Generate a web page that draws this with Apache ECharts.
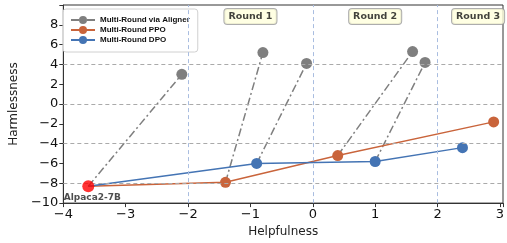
<!DOCTYPE html>
<html>
<head>
<meta charset="utf-8">
<script src="https://cdn.jsdelivr.net/npm/echarts@6/dist/echarts.min.js"></script>
<style>
  html, body { margin: 0; padding: 0; background: #fff; }
  #chart { width: 507px; height: 243px; }
</style>
</head>
<body>
<div id="chart"></div>
<script>
  // base model
  const baseName = 'Alpaca2-7B'
  const base = [-3.6, -8.3]

  // multi-round PPO / DPO (first point is the base model)
  const ppoX = [-3.6, -1.4, 0.4, 2.9]
  const ppoY = [-8.3, -7.9, -5.2, -1.8]
  const dpoX = [-3.6, -0.9, 1.0, 2.4]
  const dpoY = [-8.3, -6.0, -5.8, -4.4]

  // aligner corrections: from a model to its corrected point
  const alignFromX = [-3.6, -1.4, -0.9, 0.4, 1.0]
  const alignFromY = [-8.3, -7.9, -6.0, -5.2, -5.8]
  const alignToX = [-2.1, -0.8, -0.1, 1.6, 1.8]
  const alignToY = [3.0, 5.2, 4.1, 5.3, 4.2]

  // round labels and guide lines
  const roundNames = ['Round 1', 'Round 2', 'Round 3']
  const roundX = [-1, 1, 2.65]
  const roundY = 8.85
  const hGuides = [-8, -4, 0, 4]
  const vGuides = [-2, 0, 2]

  const font = 'DejaVu Sans'
  const gray = '#7f7f7f'
  const orange = '#c9643b'
  const blue = '#4474b4'

  const minus = v => String(v).replace('-', '\u2212')

  let chart = echarts.init(document.getElementById('chart'))

  let alignerSeries = alignFromX.map((fx, i) => ({
    name: 'Multi-Round via Aligner',
    type: 'line',
    z: 3,
    symbol: 'circle',
    symbolSize: 11,
    itemStyle: { color: gray },
    lineStyle: { color: gray, width: 1.5, type: [8, 3, 2, 3] },
    data: [
      { value: [fx, alignFromY[i]], symbol: 'none' },
      [alignToX[i], alignToY[i]]
    ]
  }))

  let pathData = (xs, ys) => xs.map((x, i) => i === 0 ? { value: [x, ys[i]], symbol: 'none' } : [x, ys[i]])

  let option = {
    animation: false,
    textStyle: { fontFamily: font },
    grid: {
      left: 59, right: 2, top: 5, bottom: 39,
      show: true, borderColor: '#333', borderWidth: 1
    },
    legend: {
      data: ['Multi-Round via Aligner', 'Multi-Round PPO', 'Multi-Round DPO'],
      orient: 'vertical',
      left: 63, top: 9,
      padding: [7, 8, 8, 7],
      itemGap: 2,
      itemWidth: 24,
      itemHeight: 10,
      borderColor: '#d0d0d0',
      borderWidth: 1,
      borderRadius: 3,
      backgroundColor: 'rgba(255,255,255,0.85)',
      textStyle: { fontFamily: 'Liberation Sans', fontSize: 8, fontWeight: 'bold', color: '#111' }
    },
    xAxis: {
      type: 'value',
      min: -4, max: 3.05, interval: 1,
      name: 'Helpfulness',
      nameLocation: 'middle',
      nameGap: 22,
      nameTextStyle: { fontFamily: font, fontSize: 12, color: '#222' },
      splitLine: { show: false },
      axisLine: { onZero: false, lineStyle: { color: '#333' } },
      axisTick: { inside: false, length: 4, lineStyle: { color: '#333' } },
      axisLabel: {
        fontFamily: font, fontSize: 13, color: '#111', margin: 5,
        formatter: v => Number.isInteger(v) ? minus(v) : ''
      }
    },
    yAxis: {
      type: 'value',
      min: -10, max: 10, interval: 2,
      name: 'Harmlessness',
      nameLocation: 'middle',
      nameGap: 36,
      nameTextStyle: { fontFamily: font, fontSize: 12, color: '#222' },
      splitLine: { show: false },
      axisLine: { onZero: false, lineStyle: { color: '#333' } },
      axisTick: { inside: false, length: 4, lineStyle: { color: '#333' } },
      axisLabel: {
        fontFamily: font, fontSize: 13, color: '#111', margin: 5,
        formatter: v => v === 10 ? '' : minus(v)
      }
    },
    series: [
      {
        name: 'guides',
        type: 'scatter',
        z: 1,
        symbolSize: 0,
        data: roundX.map((x, i) => ({ value: [x, roundY], name: roundNames[i] })),
        label: {
          show: true,
          position: 'inside',
          formatter: p => p.name,
          fontFamily: font, fontSize: 9.5, fontWeight: 'bold', color: '#111',
          backgroundColor: '#ffffdc',
          borderColor: '#999',
          borderWidth: 1,
          borderRadius: 3,
          padding: [3, 4, 2, 4]
        },
        markLine: {
          silent: true,
          symbol: 'none',
          label: { show: false },
          data: hGuides.map(y => ({ yAxis: y, lineStyle: { color: '#aaa', type: [4, 3], width: 1 } }))
            .concat(vGuides.map(x => ({ xAxis: x, lineStyle: { color: '#a9bde0', type: [4, 3], width: 1 } })))
        }
      },
      ...alignerSeries,
      {
        name: 'Multi-Round PPO',
        type: 'line',
        z: 4,
        symbol: 'circle',
        symbolSize: 11,
        itemStyle: { color: orange },
        lineStyle: { color: orange, width: 1.5 },
        data: pathData(ppoX, ppoY)
      },
      {
        name: 'Multi-Round DPO',
        type: 'line',
        z: 4,
        symbol: 'circle',
        symbolSize: 11,
        itemStyle: { color: blue },
        lineStyle: { color: blue, width: 1.5 },
        data: pathData(dpoX, dpoY)
      },
      {
        name: baseName,
        type: 'scatter',
        z: 5,
        symbolSize: 12,
        itemStyle: { color: '#ff0000' },
        data: [base],
        label: {
          show: true,
          position: 'bottom',
          offset: [4, -1],
          distance: 2,
          formatter: baseName,
          fontFamily: font, fontSize: 9, fontWeight: 'bold', color: '#222'
        }
      }
    ]
  }

  chart.setOption(option)
  window.onresize = function() {
    chart.resize()
  }
</script>
</body>
</html>
